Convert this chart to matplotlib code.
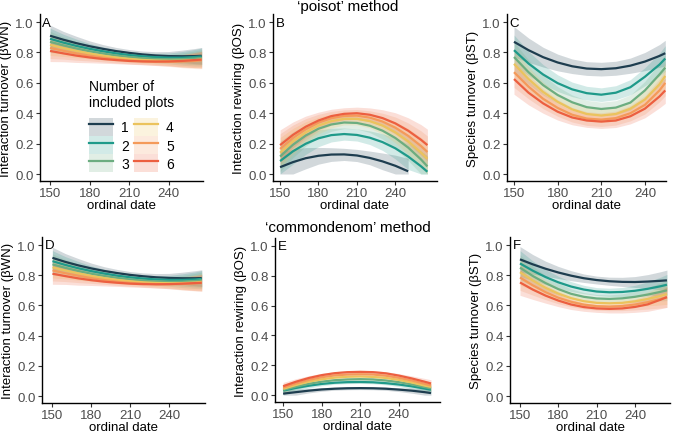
import numpy as np
import matplotlib
matplotlib.use("Agg")
import matplotlib.pyplot as plt
from matplotlib.patches import Patch
from matplotlib.lines import Line2D

plt.rcParams['font.family'] = ['Liberation Sans', 'DejaVu Sans']

days = [150, 160, 170, 180, 190, 200, 210, 220, 230, 240, 250, 260, 265]
days_c = [150, 160, 170, 180, 190, 200, 210, 220, 230, 240, 250, 254]

groups = ["1", "2", "3", "4", "5", "6"]
colors = ["#1e3d4f", "#1f9a8a", "#6cad80", "#ebc35d", "#f49a5a", "#ec5f40"]

# A - poisot, interaction turnover
a_fit = [
    [0.910, 0.884, 0.861, 0.841, 0.824, 0.809, 0.797, 0.787, 0.780, 0.776, 0.775, 0.776, 0.778],
    [0.890, 0.865, 0.843, 0.824, 0.808, 0.794, 0.783, 0.775, 0.769, 0.766, 0.766, 0.770, 0.774],
    [0.870, 0.847, 0.826, 0.808, 0.793, 0.780, 0.770, 0.762, 0.757, 0.755, 0.756, 0.760, 0.764],
    [0.850, 0.829, 0.810, 0.793, 0.779, 0.767, 0.758, 0.751, 0.747, 0.745, 0.746, 0.750, 0.754],
    [0.830, 0.811, 0.794, 0.779, 0.766, 0.755, 0.747, 0.742, 0.739, 0.738, 0.740, 0.744, 0.748],
    [0.810, 0.794, 0.779, 0.767, 0.757, 0.750, 0.744, 0.741, 0.740, 0.741, 0.744, 0.750, 0.753],
]
a_se = [0.07, 0.055, 0.045, 0.035, 0.028, 0.024, 0.022, 0.022, 0.025, 0.03, 0.04, 0.05, 0.055]

# B - poisot, interaction rewiring
b_fit = [
    [0.045, 0.078, 0.104, 0.120, 0.128, 0.129, 0.122, 0.106, 0.083, 0.054, 0.018, np.nan, np.nan],
    [0.085, 0.149, 0.199, 0.235, 0.256, 0.263, 0.257, 0.239, 0.210, 0.169, 0.115, 0.051, 0.015],
    [0.115, 0.192, 0.253, 0.298, 0.326, 0.339, 0.336, 0.318, 0.285, 0.237, 0.174, 0.096, 0.050],
    [0.140, 0.215, 0.274, 0.319, 0.348, 0.363, 0.363, 0.348, 0.319, 0.274, 0.215, 0.141, 0.100],
    [0.165, 0.237, 0.294, 0.338, 0.367, 0.382, 0.384, 0.371, 0.345, 0.305, 0.251, 0.184, 0.145],
    [0.190, 0.257, 0.311, 0.352, 0.381, 0.396, 0.400, 0.390, 0.368, 0.333, 0.285, 0.225, 0.190],
]
b_se = [0.10, 0.085, 0.07, 0.055, 0.045, 0.04, 0.04, 0.045, 0.055, 0.07, 0.085, 0.10, 0.105]

# C - poisot, species turnover
c_fit = [
    [0.870, 0.815, 0.769, 0.734, 0.709, 0.694, 0.690, 0.696, 0.713, 0.740, 0.777, 0.795],
    [0.815, 0.727, 0.655, 0.598, 0.557, 0.532, 0.522, 0.535, 0.571, 0.640, 0.720, 0.760],
    [0.770, 0.670, 0.585, 0.520, 0.472, 0.440, 0.428, 0.437, 0.470, 0.550, 0.655, 0.700],
    [0.725, 0.625, 0.540, 0.475, 0.425, 0.395, 0.385, 0.395, 0.430, 0.490, 0.590, 0.645],
    [0.670, 0.575, 0.495, 0.435, 0.390, 0.365, 0.358, 0.368, 0.400, 0.455, 0.550, 0.600],
    [0.625, 0.535, 0.465, 0.410, 0.372, 0.352, 0.345, 0.352, 0.380, 0.430, 0.510, 0.550],
]
c_se = [0.10, 0.08, 0.065, 0.055, 0.048, 0.045, 0.045, 0.046, 0.05, 0.06, 0.075, 0.085]

# D - commondenom, interaction turnover
d_fit = [
    [0.915, 0.888, 0.865, 0.845, 0.828, 0.814, 0.802, 0.793, 0.786, 0.782, 0.780, 0.780, 0.781],
    [0.893, 0.868, 0.846, 0.827, 0.811, 0.797, 0.786, 0.778, 0.772, 0.769, 0.769, 0.772, 0.776],
    [0.872, 0.849, 0.828, 0.810, 0.795, 0.782, 0.772, 0.764, 0.759, 0.757, 0.758, 0.762, 0.766],
    [0.852, 0.831, 0.812, 0.795, 0.781, 0.769, 0.760, 0.753, 0.749, 0.747, 0.748, 0.752, 0.756],
    [0.832, 0.813, 0.796, 0.781, 0.768, 0.757, 0.749, 0.744, 0.741, 0.740, 0.742, 0.746, 0.749],
    [0.810, 0.794, 0.779, 0.767, 0.757, 0.750, 0.744, 0.741, 0.740, 0.741, 0.744, 0.748, 0.750],
]
d_se = [0.07, 0.055, 0.045, 0.035, 0.028, 0.024, 0.022, 0.022, 0.025, 0.03, 0.04, 0.05, 0.055]

# E - commondenom, interaction rewiring
e_fit = [
    [0.010, 0.020, 0.030, 0.038, 0.043, 0.046, 0.047, 0.046, 0.043, 0.037, 0.030, 0.020, 0.014],
    [0.030, 0.048, 0.063, 0.075, 0.083, 0.087, 0.088, 0.086, 0.080, 0.071, 0.059, 0.044, 0.036],
    [0.035, 0.057, 0.076, 0.090, 0.100, 0.105, 0.107, 0.105, 0.098, 0.087, 0.072, 0.054, 0.045],
    [0.042, 0.068, 0.090, 0.106, 0.117, 0.123, 0.125, 0.122, 0.115, 0.102, 0.085, 0.064, 0.055],
    [0.050, 0.078, 0.102, 0.120, 0.132, 0.138, 0.140, 0.138, 0.130, 0.116, 0.098, 0.076, 0.065],
    [0.060, 0.090, 0.115, 0.134, 0.147, 0.154, 0.156, 0.154, 0.146, 0.131, 0.112, 0.090, 0.078],
]
e_se = [0.025, 0.02, 0.015, 0.012, 0.01, 0.01, 0.01, 0.01, 0.011, 0.013, 0.017, 0.022, 0.025]

# F - commondenom, species turnover
f_fit = [
    [0.905, 0.872, 0.843, 0.818, 0.797, 0.780, 0.768, 0.760, 0.756, 0.755, 0.758, 0.763, 0.766],
    [0.878, 0.830, 0.788, 0.753, 0.725, 0.705, 0.692, 0.687, 0.689, 0.697, 0.710, 0.727, 0.737],
    [0.850, 0.795, 0.748, 0.708, 0.677, 0.657, 0.646, 0.643, 0.647, 0.657, 0.672, 0.690, 0.700],
    [0.820, 0.765, 0.717, 0.678, 0.648, 0.628, 0.617, 0.614, 0.617, 0.627, 0.643, 0.663, 0.675],
    [0.785, 0.733, 0.688, 0.651, 0.624, 0.605, 0.595, 0.592, 0.596, 0.606, 0.622, 0.643, 0.655],
    [0.752, 0.705, 0.665, 0.632, 0.606, 0.589, 0.580, 0.577, 0.580, 0.590, 0.607, 0.638, 0.655],
]
f_se = [0.085, 0.065, 0.05, 0.04, 0.033, 0.028, 0.026, 0.027, 0.03, 0.036, 0.046, 0.06, 0.068]

W, H = 676, 435
TXT = 9.5

# panel: letter, x, fits, se, y label, axes box in px (left, right, top, bottom), xlim
panels = [
    ("A", days, a_fit, a_se, "Interaction turnover (\u03b2WN)", (40, 203, 15, 182), (142.4, 266)),
    ("B", days, b_fit, b_se, "Interaction rewiring (\u03b2OS)", (273, 437, 15, 182), (144.5, 272.5)),
    ("C", days_c, c_fit, c_se, "Species turnover (\u03b2ST)", (507, 666, 15, 182), (145.2, 254.5)),
    ("D", days, d_fit, d_se, "Interaction turnover (\u03b2WN)", (42, 205, 238, 404), (142, 267.5)),
    ("E", days, e_fit, e_se, "Interaction rewiring (\u03b2OS)", (275, 440, 239, 403), (143.7, 272)),
    ("F", days, f_fit, f_se, "Species turnover (\u03b2ST)", (510, 670, 238, 404), (142.2, 267.4)),
]

fig = plt.figure(figsize=(W / 100, H / 100), dpi=100)

axes = {}
for letter, x, fits, se, ylab, box, xlim in panels:
    l, r, t, b = box
    ax = fig.add_axes([l / W, 1 - b / H, (r - l) / W, (b - t) / H])
    x = np.array(x)
    se = np.array(se)
    for i, fit in enumerate(fits):
        fit = np.array(fit)
        lo = np.clip(fit - se, 0, None)
        hi = fit + se
        ax.fill_between(x, lo, hi, color=colors[i], alpha=0.2, lw=0)
        ax.plot(x, fit, color=colors[i], lw=1.6, solid_capstyle='butt')
    ax.set_xlim(*xlim)
    ax.set_ylim(-0.046, 1.053)
    ax.set_xticks([150, 180, 210, 240])
    ax.set_yticks([0.0, 0.2, 0.4, 0.6, 0.8, 1.0])
    ax.set_yticklabels(["0.0", "0.2", "0.4", "0.6", "0.8", "1.0"])
    for s in ["top", "right"]:
        ax.spines[s].set_visible(False)
    for s in ["left", "bottom"]:
        ax.spines[s].set_linewidth(1.0)
    ax.tick_params(labelsize=TXT, labelcolor="#4d4d4d", color="#333333",
                   length=3, width=0.8, pad=1.5)
    ax.set_xlabel("ordinal date", fontsize=TXT, labelpad=0)
    ax.set_ylabel(ylab, fontsize=TXT, labelpad=2)
    ax.text(0.015, 0.985, letter, transform=ax.transAxes, ha="left", va="top",
            fontsize=TXT)
    axes[letter] = ax

fig.text(348 / W, 1 - 7 / H, "\u2018poisot\u2019 method", ha="center", va="center", fontsize=11)
fig.text(348 / W, 1 - 228 / H, "\u2018commondenom\u2019 method", ha="center", va="center", fontsize=11)

# legend: shaded key with line, two columns
handles = [(Patch(facecolor=c, alpha=0.2, lw=0), Line2D([], [], color=c, lw=1.6))
           for c in colors]
leg = axes["A"].legend(handles, groups, ncol=2, title="Number of\nincluded plots",
                       frameon=False, fontsize=10, title_fontsize=10,
                       loc="upper left", bbox_to_anchor=(89 / W, 1 - 80 / H),
                       bbox_transform=fig.transFigure, borderpad=0,
                       handlelength=1.7, handleheight=1.65, labelspacing=0.0,
                       handletextpad=0.6, columnspacing=0.35, borderaxespad=0)
leg._legend_box.sep = 6

fig.savefig("out.png", dpi=100)
